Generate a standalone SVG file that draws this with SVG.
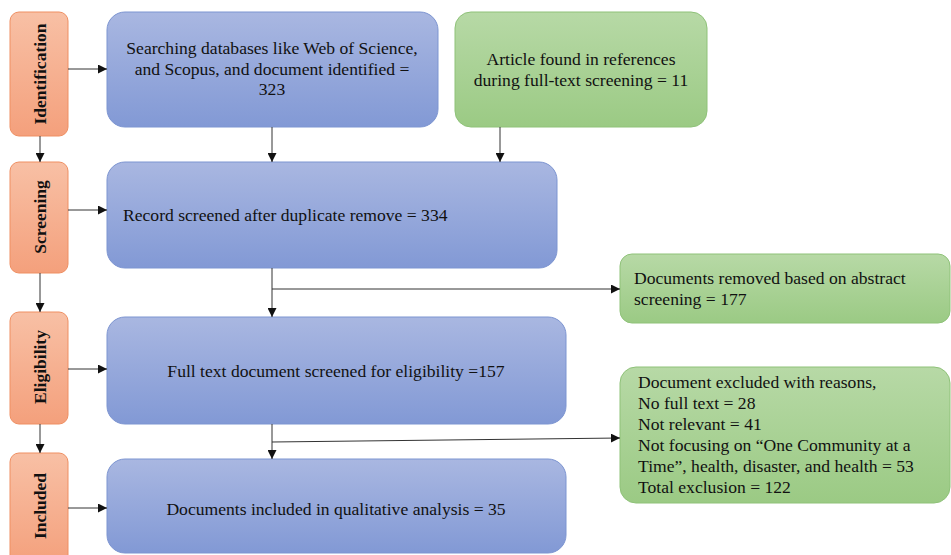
<svg xmlns="http://www.w3.org/2000/svg" width="951" height="555" viewBox="0 0 951 555">
<defs>
<linearGradient id="gBlue" x1="0" y1="0" x2="0" y2="1"><stop offset="0" stop-color="#a9b7e1"/><stop offset="1" stop-color="#8299d5"/></linearGradient>
<linearGradient id="gOrange" x1="0" y1="0" x2="0" y2="1"><stop offset="0" stop-color="#f8c0a5"/><stop offset="1" stop-color="#f4a07c"/></linearGradient>
<linearGradient id="gGreen" x1="0" y1="0" x2="0" y2="1"><stop offset="0" stop-color="#b7d9a6"/><stop offset="1" stop-color="#9bca84"/></linearGradient>
<marker id="ah" viewBox="0 0 10 10" refX="10" refY="5" markerWidth="9" markerHeight="9" markerUnits="userSpaceOnUse" orient="auto"><path d="M0,0 L10,5 L0,10 Z" fill="#111"/></marker>
</defs>
<style>
.stage{fill:url(#gOrange);stroke:#ef8f62;stroke-width:1}
.blue{fill:url(#gBlue);stroke:#7d95d1;stroke-width:1}
.green{fill:url(#gGreen);stroke:#8fc279;stroke-width:1}
text{font-family:'Liberation Serif','Tinos','DejaVu Serif',serif}
.st{font-size:17.5px;font-weight:bold;fill:#111;text-anchor:middle;dominant-baseline:central}
.t{font-size:17.6px;fill:#111}
.c{text-anchor:middle}
.ar{fill:none;stroke:#333;stroke-width:1;marker-end:url(#ah)}
</style>
<rect width="951" height="555" fill="#fff"/>
<g id="stage-identification"><rect class="stage" x="10" y="12" width="58" height="124" rx="9"/><text class="st" transform="translate(40,74) rotate(-90)">Identification</text></g>
<g id="stage-screening"><rect class="stage" x="10" y="162" width="58" height="111" rx="9"/><text class="st" transform="translate(40,217) rotate(-90)">Screening</text></g>
<g id="stage-eligibility"><rect class="stage" x="10" y="312" width="58" height="112" rx="9"/><text class="st" transform="translate(40,367) rotate(-90)">Eligibility</text></g>
<g id="stage-included"><rect class="stage" x="10" y="453" width="58" height="112" rx="9"/><text class="st" transform="translate(40,506) rotate(-90)">Included</text></g>
<g id="box-search"><rect class="blue" x="107" y="12" width="331" height="115" rx="18"/><text class="t c" x="272" y="54">Searching databases like Web of Science,</text><text class="t c" x="272" y="75">and Scopus, and document identified =</text><text class="t c" x="272" y="95">323</text></g>
<g id="box-references"><rect class="green" x="455" y="12" width="252" height="115" rx="16"/><text class="t c" x="581" y="65">Article found in references</text><text class="t c" x="581" y="86">during full-text screening = 11</text></g>
<g id="box-screened"><rect class="blue" x="107" y="162" width="450" height="106" rx="18"/><text class="t" x="123" y="221">Record screened after duplicate remove = 334</text></g>
<g id="box-abstract"><rect class="green" x="620" y="254" width="330" height="69" rx="12"/><text class="t" x="634" y="284">Documents removed based on abstract</text><text class="t" x="634" y="305">screening = 177</text></g>
<g id="box-fulltext"><rect class="blue" x="107" y="317" width="459" height="107" rx="18"/><text class="t c" x="336" y="377">Full text document screened for eligibility =157</text></g>
<g id="box-excluded"><rect class="green" x="620" y="367" width="330" height="136" rx="16"/><text class="t" x="638" y="388">Document excluded with reasons,</text><text class="t" x="638" y="409">No full text = 28</text><text class="t" x="638" y="430">Not relevant = 41</text><text class="t" x="638" y="451">Not focusing on “One Community at a</text><text class="t" x="638" y="472">Time”, health, disaster, and health = 53</text><text class="t" x="638" y="493">Total exclusion = 122</text></g>
<g id="box-included"><rect class="blue" x="107" y="459" width="459" height="94" rx="18"/><text class="t c" x="336" y="515">Documents included in qualitative analysis = 35</text></g>
<g id="connectors">
<path class="ar" d="M68,69 H107"/>
<path class="ar" d="M68,210 H107"/>
<path class="ar" d="M68,369 H107"/>
<path class="ar" d="M68,508 H107"/>
<path class="ar" d="M40,136 V162"/>
<path class="ar" d="M40,273 V312"/>
<path class="ar" d="M40,424 V453"/>
<path class="ar" d="M272,127 V162"/>
<path class="ar" d="M500,127 V162"/>
<path class="ar" d="M272,268 V317"/>
<path class="ar" d="M272,289 H620"/>
<path class="ar" d="M272,424 V459"/>
<path class="ar" d="M272,442 L620,438"/>
</g>
</svg>
